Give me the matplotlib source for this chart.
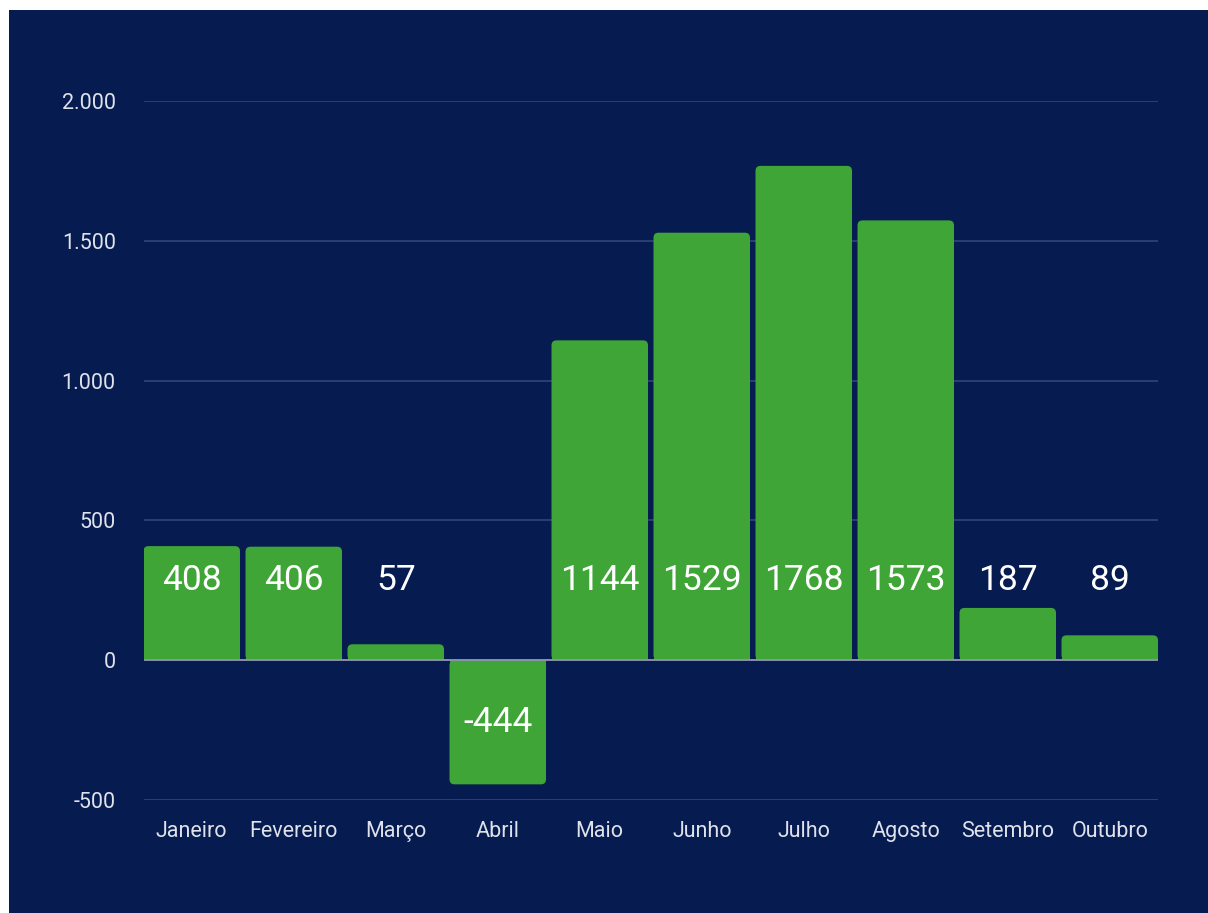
import matplotlib.pyplot as plt
import numpy as np
from matplotlib.patches import FancyBboxPatch, Rectangle
from matplotlib.ticker import FuncFormatter

plt.rcParams['font.family'] = ['Roboto', 'DejaVu Sans']

meses = ['Janeiro', 'Fevereiro', 'Março', 'Abril', 'Maio', 'Junho',
         'Julho', 'Agosto', 'Setembro', 'Outubro']
saldo = [408, 406, 57, -444, 1144, 1529, 1768, 1573, 187, 89]
yticks = [-500, 0, 500, 1000, 1500, 2000]

navy = '#061b4f'
verde = '#3ea536'
texto = '#dfe2ea'

fig = plt.figure(figsize=(12.08, 9.13), dpi=100, facecolor='white')
# fundo azul com pequena margem branca em cima e à esquerda
fig.patches.append(Rectangle((9/1208, 0), 1, (913-10)/913, transform=fig.transFigure,
                             facecolor=navy, edgecolor='none', zorder=-10))

ax = fig.add_axes([143.5/1208, (913-800)/913, (1158-143.5)/1208, 699/913])
ax.set_facecolor(navy)

x = np.arange(len(meses))
bw = 0.946
bars = ax.bar(x, saldo, width=bw, color=verde, lw=0, zorder=2)

# cantos arredondados (~5 px)
r = 5 / 102
asp = (5 * 2500 / 699) / r
for b, v in zip(bars, saldo):
    x0 = b.get_x()
    w = b.get_width()
    b.remove()
    ax.add_patch(FancyBboxPatch((x0, min(0, v)), w, abs(v),
                                boxstyle=f"round,pad=0,rounding_size={r}",
                                mutation_aspect=asp, fc=verde, lw=0, zorder=2))
    ax.add_patch(Rectangle((x0, min(0, v / 2)), w, abs(v) / 2, fc=verde, lw=0, zorder=2))

for xi, v in zip(x, saldo):
    ypos = 285 if v >= 0 else v / 2
    ax.text(xi, ypos, str(v), ha='center', va='center', color='white',
            fontsize=25.5, zorder=4)

ax.set_xlim(-bw / 2, len(meses) - 1 + bw / 2)
ax.set_ylim(-500, 2000)
ax.set_yticks(yticks)
ax.yaxis.set_major_formatter(FuncFormatter(lambda v, p: f'{int(v):,}'.replace(',', '.')))
ax.set_xticks(x)
ax.set_xticklabels(meses)

ax.grid(axis='y', color='#36477b', lw=1.1, zorder=0)
ax.axhline(0, color='#8e95b0', lw=1.3, zorder=3)
ax.tick_params(axis='both', length=0, colors=texto, labelsize=15.5)
ax.tick_params(axis='y', pad=20)
ax.tick_params(axis='x', pad=15)
for s in ax.spines.values():
    s.set_visible(False)

fig.savefig('out.png', dpi=100, facecolor='white')
